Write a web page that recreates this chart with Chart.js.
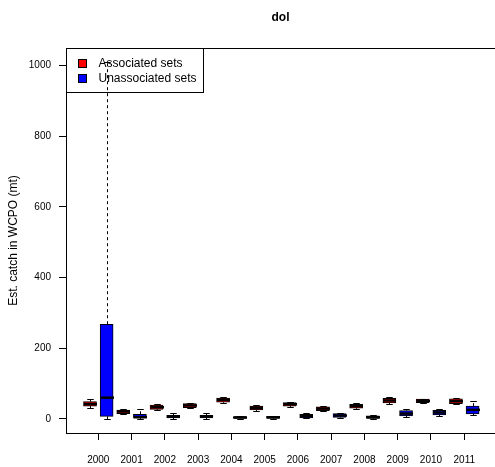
<!DOCTYPE html>
<html>
<head>
<meta charset="utf-8">
<title>dol</title>
<script src="https://cdn.jsdelivr.net/npm/chart.js@4.4.1/dist/chart.umd.min.js"></script>
<style>
  html, body { margin: 0; padding: 0; background: #fff; }
  canvas { display: block; }
</style>
</head>
<body>
<canvas id="chart" width="495" height="467"></canvas>
<script>
// years on the x axis
const years = [2000, 2001, 2002, 2003, 2004, 2005, 2006, 2007, 2008, 2009, 2010, 2011];
const yTicks = [0, 200, 400, 600, 800, 1000];

// associated sets: whisker low, Q1, median, Q3, whisker high
const assocLow  = [30, 13, 25, 30, 44, 23, 34, 22, 28, 42, 44, 41.5];
const assocQ1   = [36, 15, 27, 32, 47, 25, 36, 23.5, 30, 45, 46, 43];
const assocMed  = [42, 21, 33, 38, 54, 31, 41.5, 29, 36, 52, 51, 50];
const assocQ3   = [49, 25, 39, 43, 59, 36, 46, 34, 41.5, 58.5, 56, 56.5];
const assocHigh = [56, 28, 41.5, 46, 62, 38, 48, 36, 44, 61, 57, 58.5];

// unassociated sets
const unassocLow  = [-1, 1, 1, 1, -1, 0, 2, 3, 0, 6.5, 9.5, 11];
const unassocQ1   = [7, 2, 3, 3, 0, 1, 3, 4, 1, 8.5, 11, 14];
const unassocMed  = [60, 5, 6.5, 6.5, 4, 4.5, 7.5, 9.5, 4.5, 15, 18, 25.5];
const unassocQ3   = [268, 13, 10, 10, 6.5, 7.5, 13, 15, 8.5, 23.5, 24.5, 36];
const unassocHigh = [1011, 27, 17, 16, 7.5, 9, 16, 18, 11, 27, 27, 51];

const font = 'Liberation Sans, Arial, Helvetica, sans-serif';

const series = [
    { label: 'Associated sets', color: '#ff0000', shift: -0.25,
      low: assocLow, q1: assocQ1, med: assocMed, q3: assocQ3, high: assocHigh },
    { label: 'Unassociated sets', color: '#0000ff', shift: 0.25,
      low: unassocLow, q1: unassocQ1, med: unassocMed, q3: unassocQ3, high: unassocHigh }
];

const datasets = series.map(s => ({
    label: s.label,
    data: years.map((yr, i) => ({ x: yr + s.shift, y: [s.q1[i], s.q3[i]] })),
    backgroundColor: s.color,
    borderColor: '#000',
    borderWidth: 1,
    borderSkipped: false,
    barThickness: 13,
    grouped: false
}));

// whiskers, staples and medians on top of the bars
const boxPlugin = {
    id: 'boxParts',
    afterDatasetsDraw(chart) {
        const { ctx, scales: { x, y } } = chart;
        ctx.save();
        series.forEach(s => {
            years.forEach((yr, i) => {
                const cx = Math.round(x.getPixelForValue(yr + s.shift)) + 0.5;
                const half = 6.5;
                const top = y.getPixelForValue(s.q3[i]);
                const bot = y.getPixelForValue(s.q1[i]);
                const hi = Math.round(y.getPixelForValue(s.high[i])) + 0.5;
                const lo = Math.round(y.getPixelForValue(s.low[i])) + 0.5;
                ctx.strokeStyle = '#000';
                ctx.lineWidth = 1;
                ctx.setLineDash([3, 3]);
                ctx.beginPath();
                ctx.moveTo(cx, top); ctx.lineTo(cx, hi);
                ctx.moveTo(cx, bot); ctx.lineTo(cx, lo);
                ctx.stroke();
                ctx.setLineDash([]);
                ctx.beginPath();
                ctx.moveTo(cx - half / 2, hi); ctx.lineTo(cx + half / 2, hi);
                ctx.moveTo(cx - half / 2, lo); ctx.lineTo(cx + half / 2, lo);
                ctx.stroke();
                const m = y.getPixelForValue(s.med[i]);
                ctx.lineWidth = 2.5;
                ctx.beginPath();
                ctx.moveTo(cx - half, m); ctx.lineTo(cx + half, m);
                ctx.stroke();
            });
        });
        ctx.restore();
    },
    afterDraw(chart) {
        const { ctx, chartArea } = chart;
        ctx.save();
        // top of the frame
        ctx.strokeStyle = '#000';
        ctx.lineWidth = 1;
        ctx.beginPath();
        ctx.moveTo(chartArea.left, chartArea.top + 0.5);
        ctx.lineTo(chartArea.right, chartArea.top + 0.5);
        ctx.stroke();
        // legend, no background
        const lx = chartArea.left + 0.5, ly = chartArea.top + 0.5;
        ctx.strokeRect(lx, ly, 137, 44);
        ctx.font = '12px ' + font;
        ctx.textBaseline = 'middle';
        ctx.textAlign = 'left';
        series.forEach((s, k) => {
            const cy = ly + 15 + k * 15;
            ctx.fillStyle = s.color;
            ctx.fillRect(lx + 12, cy - 4, 8, 8);
            ctx.strokeRect(lx + 12, cy - 4, 8, 8);
            ctx.fillStyle = '#000';
            ctx.fillText(s.label, lx + 32, cy);
        });
        ctx.restore();
    }
};

new Chart(document.getElementById('chart'), {
    type: 'bar',
    data: { datasets: datasets },
    options: {
        responsive: false,
        animation: false,
        layout: { padding: { left: 0, right: 0, top: 0, bottom: 0 } },
        plugins: {
            legend: { display: false },
            tooltip: { enabled: false },
            title: {
                display: true,
                text: 'dol',
                fullSize: false,
                color: '#000',
                font: { family: font, size: 12, weight: 'bold' },
                padding: { top: 10, bottom: 23.6 }
            }
        },
        scales: {
            x: {
                type: 'linear',
                offset: false,
                min: 1999.029,
                max: 2011.924,
                afterBuildTicks: s => { s.ticks = years.map(v => ({ value: v })); },
                afterFit: s => { s.height = 34; },
                grid: { offset: false, drawOnChartArea: false, drawTicks: true, tickLength: 7, color: '#000' },
                border: { display: true, color: '#000', width: 1 },
                ticks: {
                    autoSkip: false,
                    maxRotation: 0,
                    padding: 14,
                    color: '#000',
                    font: { family: font, size: 10 },
                    callback: v => String(v)
                }
            },
            y: {
                min: -40,
                max: 1050,
                afterBuildTicks: s => { s.ticks = yTicks.map(v => ({ value: v })); },
                afterFit: s => { s.width = 66; },
                grid: { drawOnChartArea: false, drawTicks: true, tickLength: 7, color: '#000' },
                border: { display: true, color: '#000', width: 1 },
                title: {
                    display: true,
                    text: 'Est. catch in WCPO (mt)',
                    color: '#000',
                    font: { family: font, size: 12 },
                    padding: { top: 6, bottom: 0 }
                },
                ticks: {
                    padding: 8,
                    color: '#000',
                    font: { family: font, size: 10 },
                    callback: v => String(v)
                }
            }
        }
    },
    plugins: [boxPlugin]
});
</script>
</body>
</html>
